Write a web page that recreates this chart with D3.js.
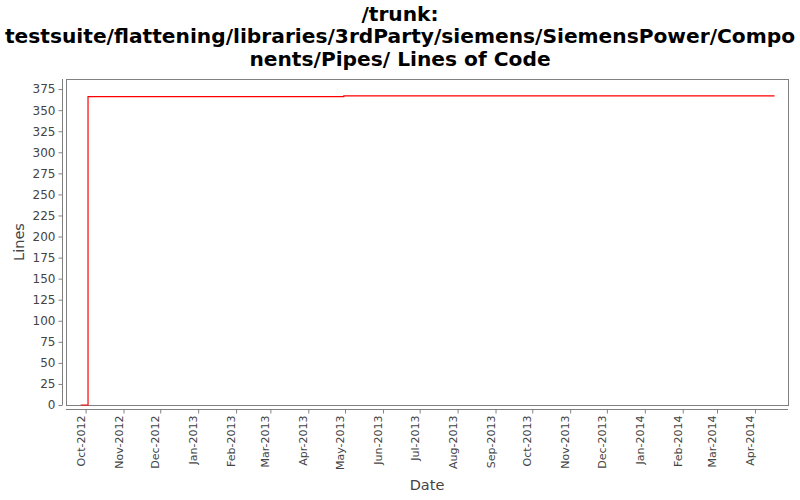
<!DOCTYPE html>
<html><head><meta charset="utf-8">
<script src="https://cdn.jsdelivr.net/npm/d3@7"></script>
<style>body{margin:0;background:#fff}</style>
</head><body>
<svg id="c" width="800" height="500"></svg>
<script>
const titleLines = ["/trunk:", "testsuite/flattening/libraries/3rdParty/siemens/SiemensPower/Compo", "nents/Pipes/ Lines of Code"];
const dates = ["2012-09-27", "2012-10-03", "2013-04-30", "2014-04-17"];
const lines = [0, 366, 367, 367];
const yTicks = [0,25,50,75,100,125,150,175,200,225,250,275,300,325,350,375];
const xTickDates = ["2012-10-01","2012-11-01","2012-12-01","2013-01-01","2013-02-01","2013-03-01","2013-04-01","2013-05-01","2013-06-01","2013-07-01","2013-08-01","2013-09-01","2013-10-01","2013-11-01","2013-12-01","2014-01-01","2014-02-01","2014-03-01","2014-04-01"];

const svg = d3.select("#c");
const font = "DejaVu Sans, sans-serif";
const L = 66, R = 788, T = 79, B = 405;
const parse = d3.utcParse("%Y-%m-%d");
const data = dates.map((d,i)=>({x: parse(d), y: lines[i]}));

const x = d3.scaleUtc().domain([parse("2012-09-15"), parse("2014-04-28")]).range([L, R]);
const y = d3.scaleLinear().domain([0, 387]).range([B, T]);

// title
svg.append("g").selectAll("text").data(titleLines).join("text")
  .attr("x", 400).attr("y", (d,i)=>20.5 + i*22.7)
  .attr("text-anchor","middle").attr("font-family",font).attr("font-weight","bold")
  .attr("font-size","20.2px").attr("fill","#000").text(d=>d);

// plot border
svg.append("rect").attr("x",L+0.5).attr("y",T+0.5).attr("width",R-L).attr("height",B-T)
  .attr("fill","#fff").attr("stroke","#808080").attr("stroke-width",1);

// y axis
const yAxis = d3.axisLeft(y).tickValues(yTicks).tickSize(4).tickPadding(3);
const gy = svg.append("g").attr("transform",`translate(${L-3.5},0)`).call(yAxis);
gy.select(".domain").attr("stroke","#808080").attr("d",`M-0,${T}H0V${B}H-0`);
gy.selectAll(".tick line").attr("stroke","#808080");
gy.selectAll(".tick text").attr("font-family",font).attr("font-size","12px").attr("fill","#444");

// x axis
const xAxis = d3.axisBottom(x).tickValues(xTickDates.map(parse)).tickFormat(d3.utcFormat("%b-%Y")).tickSize(4).tickPadding(3);
const gx = svg.append("g").attr("transform",`translate(0,${B+4.5})`).call(xAxis);
gx.select(".domain").attr("stroke","#808080").attr("d",`M${L},0V0H${R}V0`);
gx.selectAll(".tick line").attr("stroke","#808080");
gx.selectAll(".tick text").attr("font-family",font).attr("font-size","11px").attr("fill","#444")
  .attr("text-anchor","end").attr("transform","rotate(-90)").attr("dx","-6px").attr("dy","-0.4em").attr("x",0).attr("y",0)
  .attr("dominant-baseline","middle");

// axis labels
svg.append("text").attr("x",(L+R)/2).attr("y",490).attr("text-anchor","middle")
  .attr("font-family",font).attr("font-size","14.5px").attr("fill","#444").text("Date");
svg.append("text").attr("transform","translate(24,"+((T+B)/2)+") rotate(-90)").attr("text-anchor","middle")
  .attr("font-family",font).attr("font-size","14.5px").attr("fill","#444").text("Lines");

// line
const line = d3.line().x(d=>x(d.x)).y(d=>y(d.y)).curve(d3.curveStepAfter);
svg.append("path").datum(data).attr("d",line).attr("fill","none").attr("stroke","#ff0000").attr("stroke-width",1.2);
</script>
</body></html>
